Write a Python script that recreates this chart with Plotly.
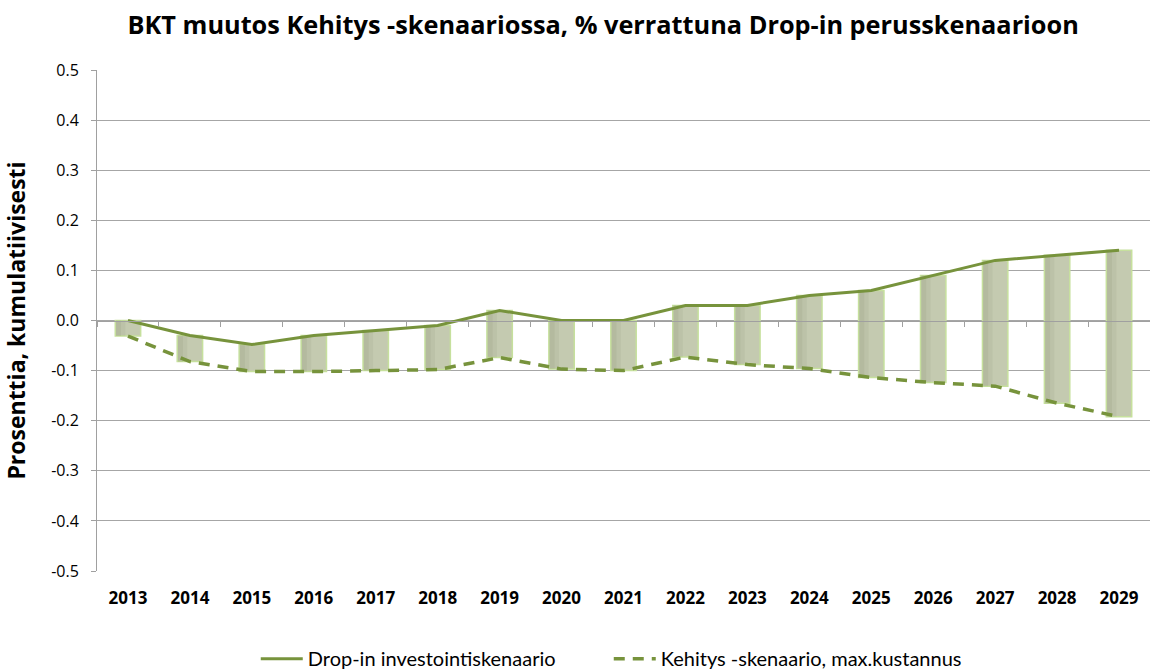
import plotly.graph_objects as go

years = [str(y) for y in range(2013, 2030)]

# Drop-in investointiskenaario (solid line, top of bars)
drop_in = [0.0, -0.03, -0.048, -0.03, -0.02, -0.01, 0.02, 0.0, 0.0,
           0.03, 0.03, 0.05, 0.06, 0.09, 0.12, 0.13, 0.14]

# Kehitys -skenaario, max.kustannus (dashed line, bottom of bars)
kehitys = [-0.031, -0.082, -0.102, -0.102, -0.100, -0.098, -0.074, -0.097, -0.100,
           -0.073, -0.088, -0.096, -0.114, -0.124, -0.131, -0.165, -0.192]

y_ticks = [-0.5, -0.4, -0.3, -0.2, -0.1, 0.0, 0.1, 0.2, 0.3, 0.4, 0.5]
y_labels = ["-0.5", "-0.4", "-0.3", "-0.2", "-0.1", "0.0", "0.1", "0.2", "0.3", "0.4", "0.5"]

line_col = "#77933c"
font_main = "'Open Sans', sans-serif"
font_legend = "Lato, sans-serif"

# up-down bars between the two series
gap = [d - k for d, k in zip(drop_in, kehitys)]

fig = go.Figure()

fig.add_trace(go.Bar(
    x=years, y=gap, base=kehitys,
    width=0.41,
    marker=dict(color="#c4cab0", line=dict(color="#c6e09d", width=1.5)),
    showlegend=False, hoverinfo="skip"
))
# softer shade on the left side of the bars (gradient look)
for w, a in [(0.15, 0.10), (0.08, 0.12)]:
    fig.add_trace(go.Bar(
        x=years, y=gap, base=kehitys,
        width=w, offset=-0.193,
        marker=dict(color=f"rgba(120,128,98,{a})", line=dict(width=0)),
        showlegend=False, hoverinfo="skip"
    ))

fig.add_trace(go.Scatter(
    x=years, y=drop_in, mode="lines",
    name="Drop-in investointiskenaario",
    line=dict(color=line_col, width=3)
))

fig.add_trace(go.Scatter(
    x=years, y=kehitys, mode="lines",
    name="Kehitys -skenaario, max.kustannus",
    line=dict(color=line_col, width=3.5, dash="11px,8px")
))

# invisible trace so the bottom label axis gets drawn
fig.add_trace(go.Scatter(
    x=years, y=[0] * len(years), xaxis="x2", mode="lines",
    line=dict(width=0, color="rgba(0,0,0,0)"), showlegend=False, hoverinfo="skip"
))

fig.update_layout(
    width=1150, height=672,
    plot_bgcolor="white", paper_bgcolor="white",
    margin=dict(l=97, r=0, t=70, b=101, autoexpand=False),
    barmode="overlay",
    font=dict(family=font_main, color="#000000"),
    title=dict(
        text="<b>BKT muutos Kehitys -skenaariossa, % verrattuna Drop-in perusskenaarioon</b>",
        x=0.5245, xanchor="center", y=0.962, yanchor="middle",
        font=dict(size=25.3, family=font_main)
    ),
    # axis line with tick marks along zero
    xaxis=dict(
        type="category", categoryorder="array", categoryarray=years,
        anchor="free", position=0.5, automargin=False,
        range=[-0.5, 16.5],
        showticklabels=False, showgrid=False,
        showline=True, linecolor="#a0a0a0", linewidth=1,
        ticks="outside", ticklen=5, tickcolor="#a0a0a0", tickwidth=1,
        tickson="boundaries"
    ),
    # year labels at the bottom
    xaxis2=dict(
        type="category", categoryorder="array", categoryarray=years,
        overlaying="x", anchor="y", side="bottom", automargin=False,
        range=[-0.5, 16.5], tickangle=0, ticklabelstandoff=15,
        showgrid=False, showline=False, ticks="",
        tickfont=dict(size=17, weight="bold")
    ),
    yaxis=dict(
        range=[-0.5, 0.5], tickvals=y_ticks, ticktext=y_labels,
        showgrid=True, gridcolor="#a6a6a6", gridwidth=1,
        zeroline=False, automargin=False,
        showline=True, linecolor="#a0a0a0", linewidth=1,
        ticks="outside", ticklen=5, tickcolor="#a0a0a0",
        ticklabelstandoff=9,
        tickfont=dict(size=16),
        title=dict(text="<b>Prosenttia, kumulatiivisesti</b>",
                   font=dict(size=23), standoff=22)
    ),
    legend=dict(
        orientation="h", x=0.486, xanchor="center",
        y=-0.136, yanchor="top",
        font=dict(size=20, family=font_legend), itemwidth=42,
        entrywidth=296,
        traceorder="normal"
    )
)

fig.write_html("out.html", post_script="document.body.style.margin='0';",
               config={"displayModeBar": False})
